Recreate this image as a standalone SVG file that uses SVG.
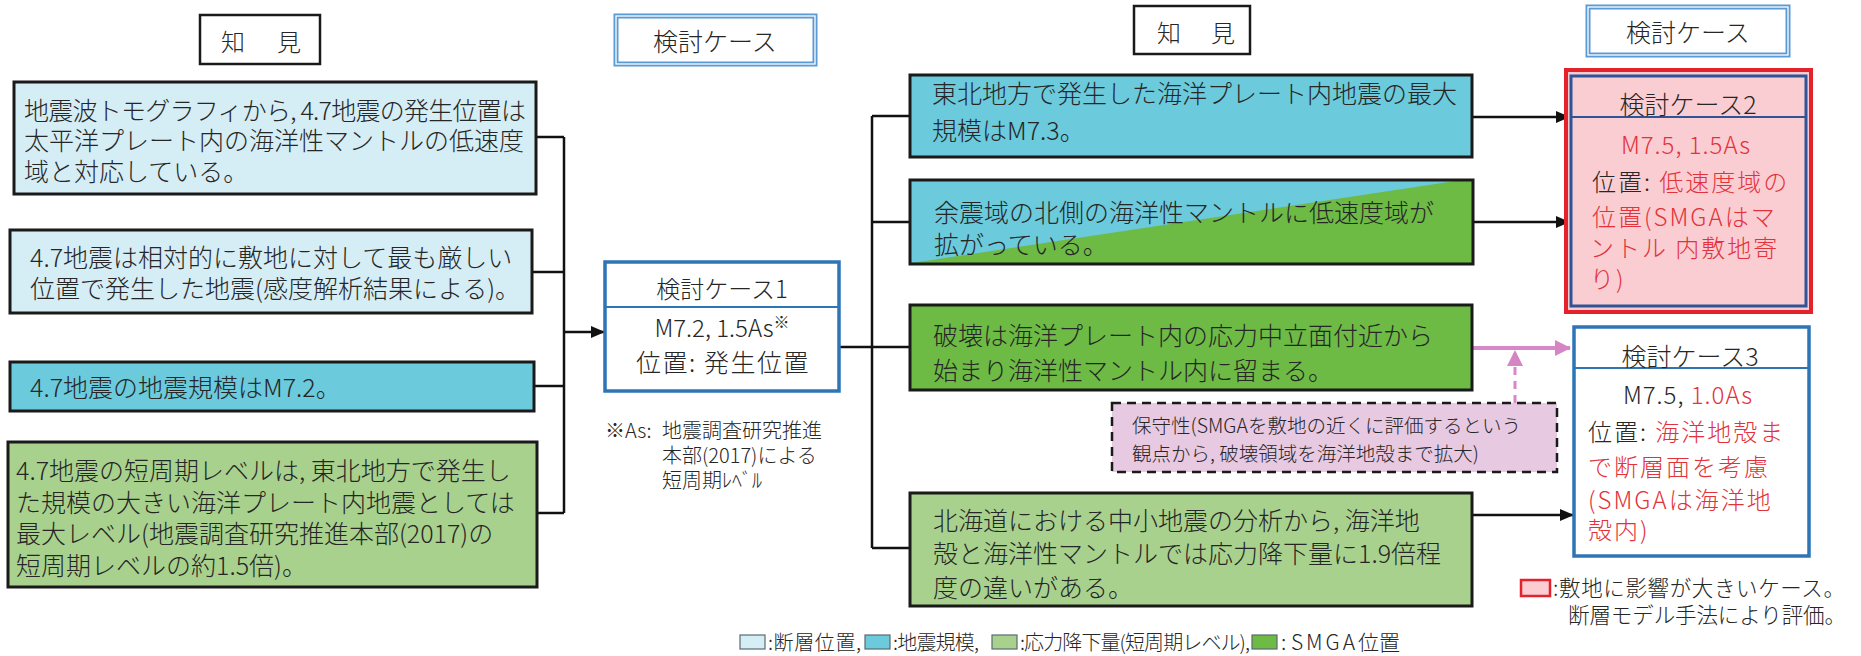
<svg xmlns="http://www.w3.org/2000/svg" width="1861" height="656" viewBox="0 0 1861 656">
<defs>
<style>
text{font-family:"Noto Sans CJK JP","Noto Sans",sans-serif;fill:#262626;font-weight:300}
.f25{font-size:25px}
.f24{font-size:24px}
.f20{font-size:20px}
.f19{font-size:19.5px}
.f21{font-size:21.5px}
.red{fill:#E4323A}
.box{stroke:#1a1a1a;stroke-width:3}
.lb{fill:#D5EDF5}
.mb{fill:#6BCADB}
.lg{fill:#A9D18E}
.dg{fill:#6DBA45}
.conn{fill:none;stroke:#111;stroke-width:2.5}
.case{fill:#fff;stroke:#2E75B6;stroke-width:3.5}
.div{stroke:#2E75B6;stroke-width:2}
.hdr{fill:#fff;stroke:#5B9BD5;stroke-width:5}
.hdr2{fill:none;stroke:#fff;stroke-width:1.3}
.kk{fill:#fff;stroke:#1a1a1a;stroke-width:2.5}
.mid{text-anchor:middle}
.lgd{stroke:#5a6a72;stroke-width:1.2}
</style>
<marker id="ab" viewBox="0 0 14 12" refX="13" refY="6" markerWidth="14" markerHeight="12" markerUnits="userSpaceOnUse" orient="auto"><path d="M0,0 L14,6 L0,12 z" fill="#111"/></marker>
<marker id="ap" viewBox="0 0 16 16" refX="15" refY="8" markerWidth="16" markerHeight="16" markerUnits="userSpaceOnUse" orient="auto"><path d="M0,0 L16,8 L0,16 z" fill="#D685C4"/></marker>
</defs>
<rect width="1861" height="656" fill="#fff"/>

<g id="connectors">
<polyline class="conn" points="536,137 564,137"/>
<polyline class="conn" points="532,272 564,272"/>
<polyline class="conn" points="534,386 564,386"/>
<polyline class="conn" points="537,513 564,513"/>
<line class="conn" x1="564" y1="137" x2="564" y2="513"/>
<line class="conn" x1="564" y1="332" x2="604" y2="332" marker-end="url(#ab)"/>
<line class="conn" x1="839" y1="347" x2="872" y2="347"/>
<line class="conn" x1="872" y1="116" x2="872" y2="548"/>
<line class="conn" x1="872" y1="116" x2="910" y2="116"/>
<line class="conn" x1="872" y1="222" x2="910" y2="222"/>
<line class="conn" x1="872" y1="347" x2="910" y2="347"/>
<line class="conn" x1="872" y1="548" x2="910" y2="548"/>
<line class="conn" x1="1472" y1="117" x2="1569" y2="117" marker-end="url(#ab)"/>
<line class="conn" x1="1473" y1="222" x2="1569" y2="222" marker-end="url(#ab)"/>
<line class="conn" x1="1472" y1="515" x2="1573" y2="515" marker-end="url(#ab)"/>
<line x1="1472" y1="348" x2="1570" y2="348" stroke="#D888C8" stroke-width="4" marker-end="url(#ap)"/>
<line x1="1515" y1="403" x2="1515" y2="351" stroke="#D888C8" stroke-width="3" stroke-dasharray="8 6" marker-end="url(#ap)"/>
</g>

<g id="hdr-chiken-left">
<rect class="kk" x="200" y="15" width="120" height="49"/>
<text class="f24" x="221" y="51" letter-spacing="4">知　見</text>
</g>
<g id="hdr-case-left">
<rect class="hdr" x="616" y="16" width="199" height="48"/>
<rect class="hdr2" x="616" y="16" width="199" height="48"/>
<text class="f25 mid" x="715" y="51">検討ケース</text>
</g>
<g id="hdr-chiken-right">
<rect class="kk" x="1134" y="6" width="116" height="48"/>
<text class="f24" x="1157" y="42" letter-spacing="3">知　見</text>
</g>
<g id="hdr-case-right">
<rect class="hdr" x="1588" y="7" width="200" height="48"/>
<rect class="hdr2" x="1588" y="7" width="200" height="48"/>
<text class="f25 mid" x="1688" y="42">検討ケース</text>
</g>

<g id="L1">
<rect class="box lb" x="14" y="82" width="522" height="112"/>
<text class="f25" x="24" y="119.5" textLength="502" lengthAdjust="spacing">地震波トモグラフィから, 4.7地震の発生位置は</text>
<text class="f25" x="24" y="149.5">太平洋プレート内の海洋性マントルの低速度</text>
<text class="f25" x="24" y="180.5">域と対応している。</text>
</g>
<g id="L2">
<rect class="box lb" x="10" y="230" width="522" height="83"/>
<text class="f25" x="30" y="266.5">4.7地震は相対的に敷地に対して最も厳しい</text>
<text class="f25" x="30" y="297.5">位置で発生した地震(感度解析結果による)。</text>
</g>
<g id="L3">
<rect class="box mb" x="10" y="362" width="524" height="49"/>
<text class="f25" x="30" y="396.5">4.7地震の地震規模はM7.2。</text>
</g>
<g id="L4">
<rect class="box lg" x="8" y="442" width="529" height="145"/>
<text class="f25" x="16" y="479.5">4.7地震の短周期レベルは, 東北地方で発生し</text>
<text class="f25" x="16" y="511.5">た規模の大きい海洋プレート内地震としては</text>
<text class="f25" x="16" y="542.5">最大レベル(地震調査研究推進本部(2017)の</text>
<text class="f25" x="16" y="574.5">短周期レベルの約1.5倍)。</text>
</g>

<g id="case1">
<rect class="case" x="605" y="262" width="234" height="129"/>
<line class="div" x1="605" y1="307" x2="839" y2="307"/>
<text class="f24 mid" x="722" y="298">検討ケース1</text>
<text class="f24 mid" x="722" y="337">M7.2, 1.5As<tspan font-size="16" dy="-9">※</tspan></text>
<text class="f25 mid" x="723" y="372" letter-spacing="1.5">位置: 発生位置</text>
</g>
<g id="footnote">
<text class="f20" x="605" y="438">※As:<tspan x="662">地震調査研究推進</tspan></text>
<text class="f20" x="662" y="463">本部(2017)による</text>
<text class="f20" x="662" y="488">短周期ﾚﾍﾞﾙ</text>
</g>

<g id="R1">
<rect class="box mb" x="910" y="75" width="562" height="82"/>
<text class="f25" x="932" y="102.5">東北地方で発生した海洋プレート内地震の最大</text>
<text class="f25" x="932" y="139.5">規模はM7.3。</text>
</g>
<g id="R2">
<rect class="mb" x="910" y="180" width="563" height="84"/>
<polygon class="dg" points="912,263 1462,180 1473,180 1473,264 910,264"/>
<rect class="box" fill="none" x="910" y="180" width="563" height="84"/>
<text class="f25" x="934" y="221.5">余震域の北側の海洋性マントルに低速度域が</text>
<text class="f25" x="934" y="253.5">拡がっている。</text>
</g>
<g id="R3">
<rect class="box dg" x="910" y="305" width="562" height="85"/>
<text class="f25" x="933" y="344.5">破壊は海洋プレート内の応力中立面付近から</text>
<text class="f25" x="933" y="379.5">始まり海洋性マントル内に留まる。</text>
</g>
<g id="note">
<rect x="1112" y="403" width="445" height="69" fill="#E8C9E2" stroke="#1a1a1a" stroke-width="2.5" stroke-dasharray="9 6"/>
<text class="f19" x="1132" y="432.5">保守性(SMGAを敷地の近くに評価するという</text>
<text class="f19" x="1132" y="460.5">観点から, 破壊領域を海洋地殻まで拡大)</text>
</g>
<g id="R4">
<rect class="box lg" x="910" y="493" width="562" height="113"/>
<text class="f25" x="933" y="529.5">北海道における中小地震の分析から, 海洋地</text>
<text class="f25" x="933" y="562.5">殻と海洋性マントルでは応力降下量に1.9倍程</text>
<text class="f25" x="933" y="596.5">度の違いがある。</text>
</g>

<g id="case2">
<rect x="1566" y="70" width="245" height="242" fill="#F9CDD2" stroke="#E3222B" stroke-width="4"/>
<rect x="1571" y="76" width="235" height="230" fill="none" stroke="#2F5597" stroke-width="3"/>
<line x1="1571" y1="117" x2="1806" y2="117" stroke="#2F5597" stroke-width="2"/>
<text class="f25 mid" x="1688" y="114">検討ケース2</text>
<text class="f24 mid red" x="1686" y="154" letter-spacing="1">M7.5, 1.5As</text>
<text class="f24" x="1592" y="191" letter-spacing="2">位置: <tspan class="red">低速度域の</tspan></text>
<text class="f24 red" x="1592" y="226" letter-spacing="2">位置(SMGAはマ</text>
<text class="f24 red" x="1590" y="257" letter-spacing="2">ントル 内敷地寄</text>
<text class="f24 red" x="1590" y="288" letter-spacing="2">り)</text>
</g>

<g id="case3">
<rect class="case" x="1574" y="327" width="235" height="229"/>
<line class="div" x1="1574" y1="368" x2="1809" y2="368"/>
<text class="f25 mid" x="1690" y="366">検討ケース3</text>
<text class="f24 mid" x="1688" y="404" letter-spacing="1">M7.5, <tspan class="red">1.0As</tspan></text>
<text class="f24" x="1588" y="441" letter-spacing="2">位置: <tspan class="red">海洋地殻ま</tspan></text>
<text class="f24 red" x="1588" y="476" letter-spacing="2">で断層面を考慮</text>
<text class="f24 red" x="1588" y="509" letter-spacing="2">(SMGAは海洋地</text>
<text class="f24 red" x="1588" y="539" letter-spacing="2">殻内)</text>
</g>

<g id="legend-right">
<rect x="1521" y="580" width="29" height="16" fill="#F9CDD2" stroke="#E3222B" stroke-width="2.5"/>
<text class="f21" x="1553" y="596" textLength="292" lengthAdjust="spacing">:敷地に影響が大きいケース。</text>
<text class="f21" x="1568" y="623" textLength="278" lengthAdjust="spacing">断層モデル手法により評価。</text>
</g>

<g id="legend-bottom">
<rect class="lgd" x="740" y="635" width="25" height="14" fill="#D5EDF5"/>
<text class="f20" x="768" y="649.5" textLength="93" lengthAdjust="spacing">:断層位置,</text>
<rect class="lgd" x="865" y="635" width="25" height="14" fill="#6BCADB"/>
<text class="f20" x="893" y="649.5" textLength="86" lengthAdjust="spacing">:地震規模,</text>
<rect class="lgd" x="992" y="635" width="25" height="14" fill="#A9D18E"/>
<text class="f20" x="1020" y="649.5" textLength="230" lengthAdjust="spacing">:応力降下量(短周期レベル),</text>
<rect class="lgd" x="1252" y="635" width="25" height="14" fill="#6DBA45"/>
<text x="1281" y="649.5" font-size="21">: <tspan letter-spacing="3">SMGA</tspan>位置</text>
</g>
</svg>
